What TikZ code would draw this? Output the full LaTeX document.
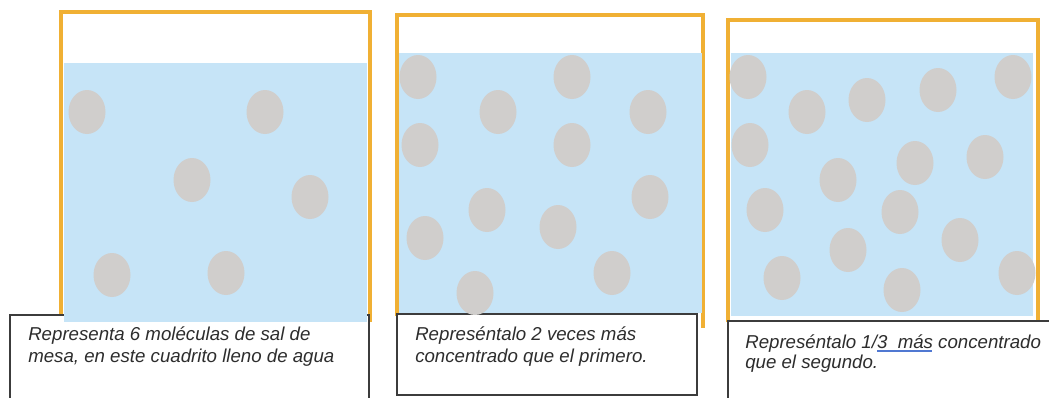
\documentclass[tikz,border=0pt]{standalone}
\usepackage{fontspec}
\setmainfont{Liberation Sans}
\usetikzlibrary{shapes.geometric}
\definecolor{frameor}{RGB}{240,176,52}
\definecolor{water}{RGB}{198,228,247}
\definecolor{salt}{RGB}{208,206,204}
\definecolor{ink}{RGB}{45,45,45}
\definecolor{boxline}{RGB}{60,60,60}
\definecolor{squiggle}{RGB}{80,120,210}
\begin{document}
\begin{tikzpicture}[x=0.75pt,y=-0.75pt,
  frame/.style={draw=frameor,line width=2.5pt},
  waterfill/.style={fill=water},
  textframe/.style={draw=boxline,fill=white,line width=1.4pt},
  saltgrain/.style={ellipse,fill=salt,draw=none,inner sep=0pt,minimum width=27.75pt,minimum height=33pt},
  caption/.style={anchor=base west,inner sep=0pt,align=left,text=ink,font=\fontsize{14}{16.5}\selectfont\itshape},
  markline/.style={draw=squiggle,line width=2pt}]
\useasboundingbox (0,0) rectangle (1049,397);
\clip (0,0) rectangle (1049,397);
% orange containers
\draw[frame] (61,322) -- (61,12) -- (370,12) -- (370,322);
\draw[frame] (397,316) -- (397,15) -- (703,15) -- (703,328);
\draw[frame] (728,322) -- (728,20) -- (1038,20) -- (1038,320);
% text boxes
\draw[textframe] (10,315) rectangle (369,402);
\draw[textframe] (397,314) rectangle (697,395);
\draw[textframe] (728,321) rectangle (1060,402);
% water
\fill[waterfill] (64,63) rectangle (367,322);
\fill[waterfill] (399,53) rectangle (702,313);
\fill[waterfill] (731,53) rectangle (1033,316);
% salt grains, first box
\foreach \x/\y [count=\i] in {87/112,265/112,192/180,310/197,112/275,226/273}
  \node[saltgrain] (a\i) at (\x,\y) {};
% second box
\foreach \x/\y [count=\i] in {418/77,572/77,498/112,648/112,420/145,572/145,650/197,487/210,558/227,425/238,612/273,475/293}
  \node[saltgrain] (b\i) at (\x,\y) {};
% third box
\foreach \x/\y [count=\i] in {748/77,807/112,867/100,938/90,1013/77,750/145,915/163,985/157,838/180,765/210,900/212,848/250,960/240,782/278,902/290,1017/273}
  \node[saltgrain] (c\i) at (\x,\y) {};
% captions (anchor is the baseline of the last line)
\node[caption] (t1) at (28,362) {Representa 6 moléculas de sal de\\mesa, en este cuadrito lleno de agua};
\node[caption] (t2) at (415,362) {Represéntalo 2 veces más\\concentrado que el primero.};
\node[caption,font=\fontsize{14}{15}\selectfont\itshape] (t3) at (745,368) {Represéntalo 1/3\ \ más concentrado\\que el segundo.};
\coordinate (m1) at (877,351);
\coordinate (m2) at (932,351);
\draw[markline] (m1) -- (m2);
\end{tikzpicture}
\end{document}
